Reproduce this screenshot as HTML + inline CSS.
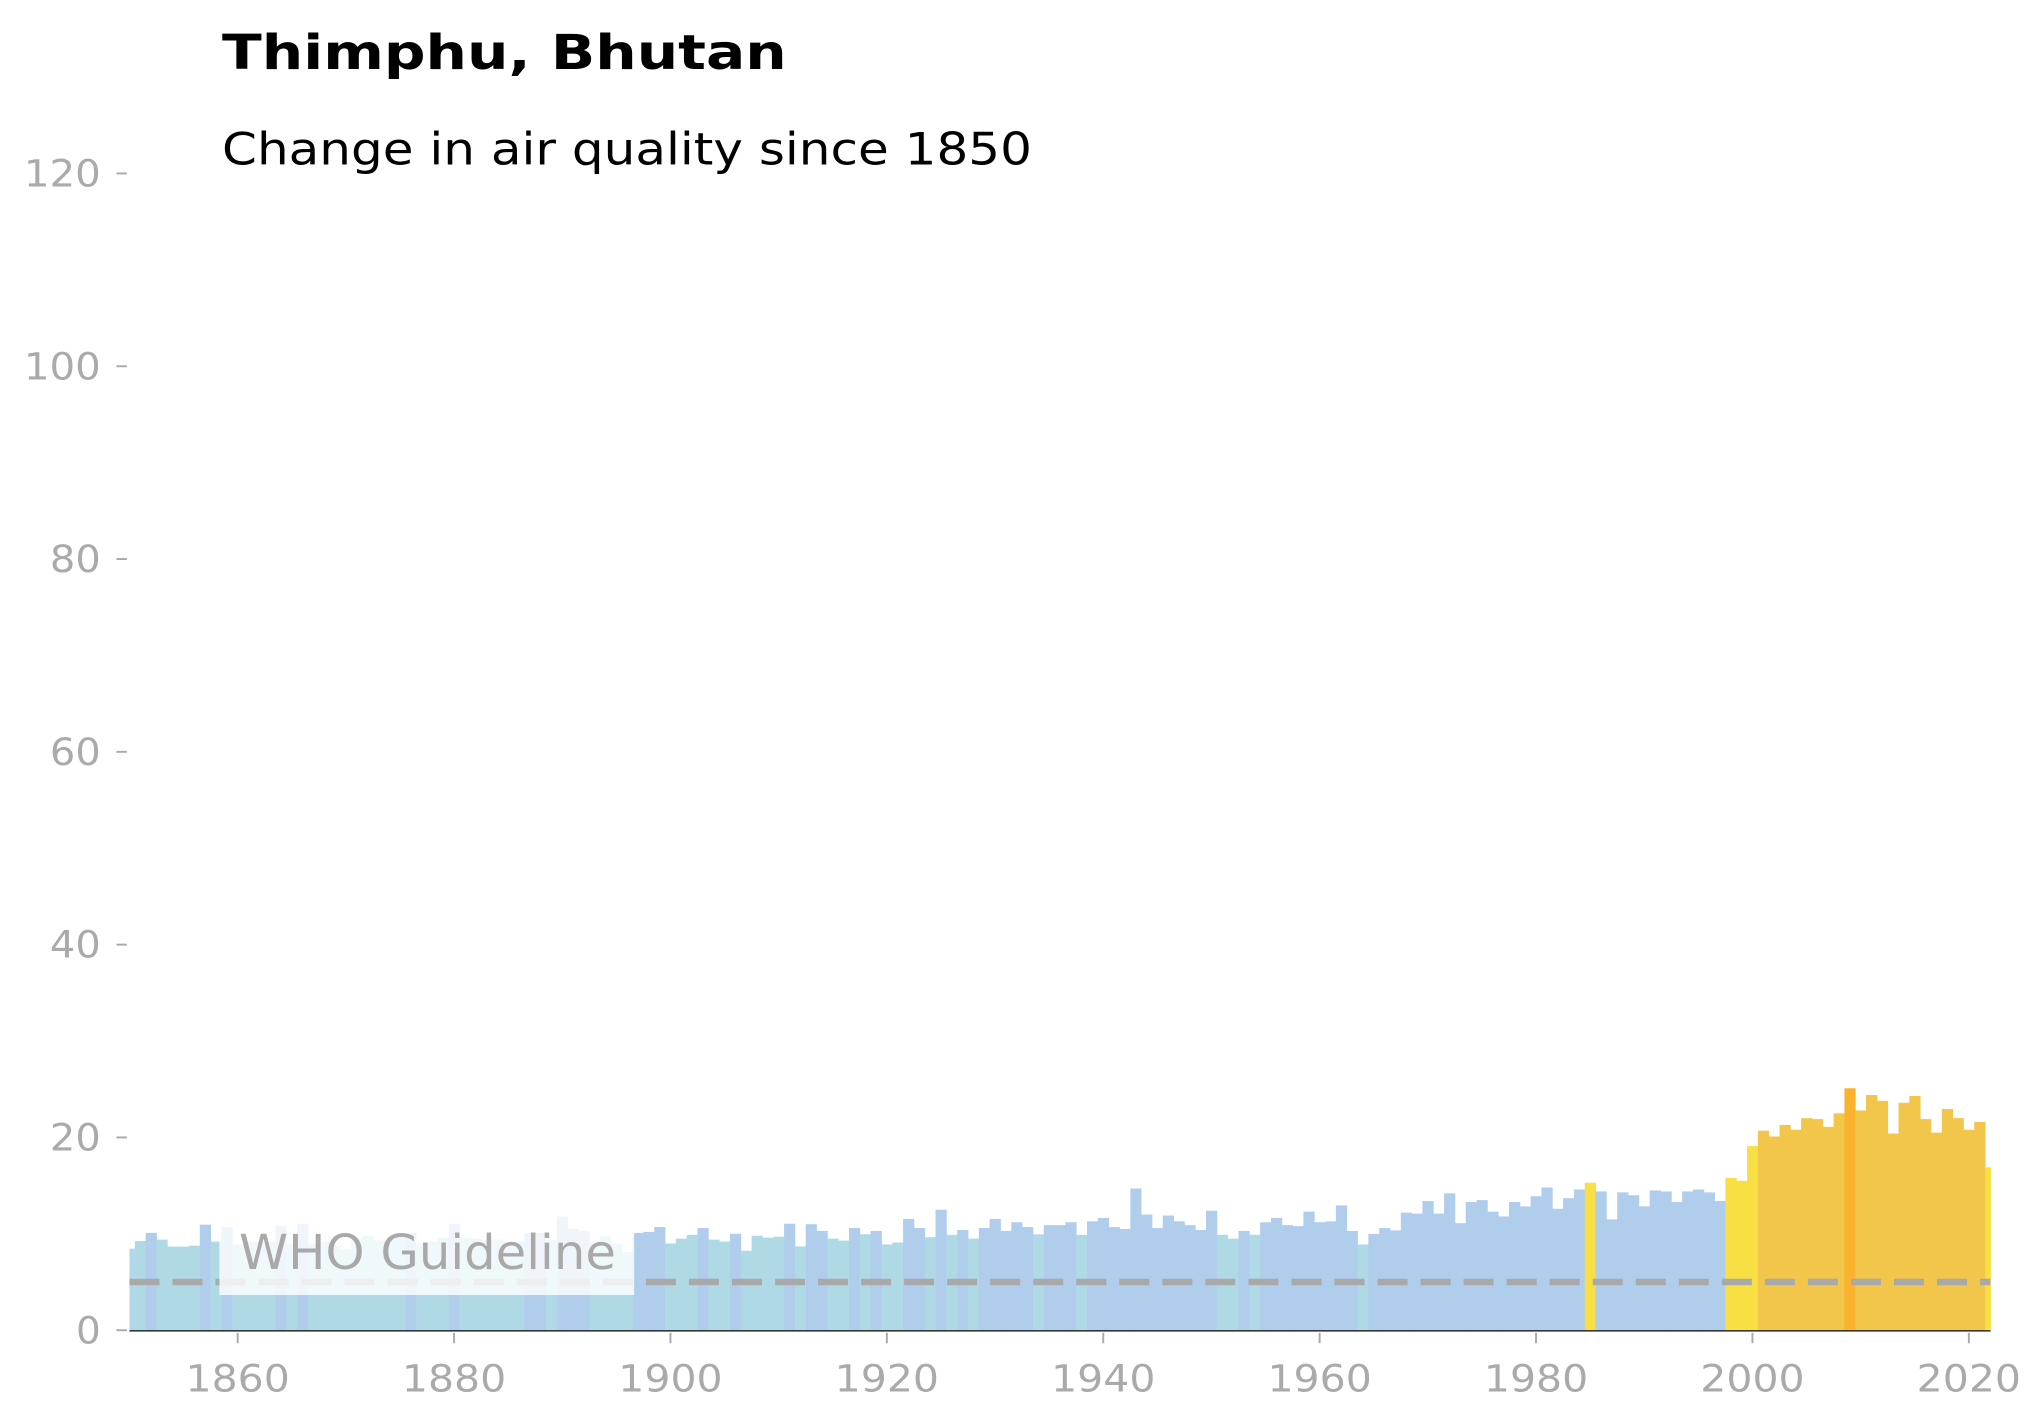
<!DOCTYPE html>
<html><head><meta charset="utf-8"><style>
html,body{margin:0;padding:0;background:#fff;}
svg{display:block;}
</style></head><body>
<svg id="chart" width="2043" height="1415" viewBox="0 0 1566 1085" xmlns="http://www.w3.org/2000/svg" font-family="'DejaVu Sans','Liberation Sans',sans-serif">
<text x="170" y="53" font-size="37" font-weight="bold" fill="#000" textLength="433" lengthAdjust="spacingAndGlyphs">Thimphu, Bhutan</text>
<text x="170" y="126" font-size="34" fill="#000" textLength="621" lengthAdjust="spacingAndGlyphs">Change in air quality since 1850</text>
<g id="bars"></g>
<g id="yaxis"></g>
<g id="xaxis"></g>
<g id="who"></g>
</svg>
<script>
const startYear = 1850;
const values = [
8.46,9.25,10.1,9.4,8.67,8.67,8.77,10.95,9.19,10.7,
8.9,9.2,9.2,9.2,10.8,9.0,11.05,9.0,9.2,8.8,
8.4,9.5,9.8,9.3,9.3,9.9,10.1,9.0,9.2,9.6,
11.05,9.6,9.5,9.4,9.4,9.2,9.2,10.1,10.1,9.35,
11.8,10.5,10.3,9.2,9.8,9.0,8.1,10.1,10.2,10.7,
9.0,9.5,9.9,10.6,9.4,9.2,10.0,8.25,9.8,9.6,
9.7,11.05,8.7,11.0,10.3,9.5,9.3,10.6,9.96,10.3,
8.9,9.1,11.55,10.6,9.65,12.5,9.9,10.4,9.5,10.6,
11.55,10.3,11.2,10.7,9.95,10.9,10.9,11.2,9.9,11.3,
11.65,10.7,10.5,14.7,12.0,10.6,11.9,11.3,10.9,10.4,
12.4,9.9,9.5,10.3,9.9,11.2,11.65,10.9,10.8,12.3,
11.2,11.3,12.95,10.3,8.9,10.0,10.6,10.35,12.2,12.1,
13.4,12.1,14.2,11.1,13.3,13.5,12.3,11.8,13.3,12.85,
13.9,14.8,12.6,13.7,14.6,15.3,14.4,11.5,14.3,14.0,
12.85,14.5,14.4,13.3,14.4,14.6,14.3,13.4,15.8,15.5,
19.1,20.7,20.1,21.3,20.8,22.0,21.9,21.1,22.5,25.1,
22.8,24.4,23.8,20.4,23.6,24.3,21.9,20.5,22.95,22.0,
20.8,21.6,16.9
];
const yTicks = [0,20,40,60,80,100,120];
const xTicks = [1860,1880,1900,1920,1940,1960,1980,2000,2020];
const guideline = 5;

const NS = "http://www.w3.org/2000/svg";
const X0 = 99, X1 = 1526, Y0 = 1020, Y120 = 133;
const xMin = 1850, xMax = 2022;
function xs(y){ return X0 + (y - xMin) * (X1 - X0) / (xMax - xMin); }
function ys(v){ return Y0 - v * (Y0 - Y120) / 120; }
function color(v){
  if (v < 10) return "#b0d9e6";
  if (v < 15) return "#b0cdec";
  if (v < 20) return "#f7df44";
  if (v < 25) return "#f1c64a";
  return "#fbb22d";
}
function mk(tag, attrs, parent){
  const el = document.createElementNS(NS, tag);
  for (const k in attrs) el.setAttribute(k, attrs[k]);
  parent.appendChild(el);
  return el;
}
const bars = document.getElementById("bars");
const bw = (X1 - X0) / (xMax - xMin);
values.forEach((v, i) => {
  const yr = startYear + i;
  let l = xs(yr) - bw/2, r = xs(yr) + bw/2;
  l = Math.max(l, X0); r = Math.min(r, X1);
  const el = mk("rect", {x: l, y: ys(v), width: r - l + 0.3, height: Y0 - ys(v), fill: color(v)}, bars);
  
  
});
const ya = document.getElementById("yaxis");
yTicks.forEach(t => {
  const ln = mk("line", {x1: 89, x2: 97, y1: ys(t), y2: ys(t), stroke: "#aaa", "stroke-width": 1.5}, ya);
  
  
  const tx = mk("text", {x: 77, y: ys(t) + 10, "text-anchor": "end", "font-size": 29, fill: "#aaa", textLength: t >= 100 ? 59 : (t > 0 ? 39 : 19), lengthAdjust: "spacingAndGlyphs"}, ya);
  tx.textContent = t;
  
  
});
const xa = document.getElementById("xaxis");
const axl = mk("line", {x1: X0, x2: X1, y1: Y0 + 0.5, y2: Y0 + 0.5, stroke: "#000", "stroke-width": 1}, xa);


xTicks.forEach(t => {
  const ln = mk("line", {x1: xs(t), x2: xs(t), y1: Y0 + 2, y2: Y0 + 10, stroke: "#aaa", "stroke-width": 1.5}, xa);
  
  
  const tx = mk("text", {x: xs(t), y: Y0 + 47, "text-anchor": "middle", "font-size": 29, fill: "#aaa", textLength: 80, lengthAdjust: "spacingAndGlyphs"}, xa);
  tx.textContent = t;
  
  
});
const who = document.getElementById("who");
const dl = mk("line", {x1: X0, x2: X1, y1: ys(guideline), y2: ys(guideline), stroke: "#a9a9a9", "stroke-width": 5, "stroke-dasharray": "23 10"}, who);


const box = mk("rect", {x: 168, y: 932, width: 318, height: 61, fill: "#fff", "fill-opacity": 0.8}, who);


const wt = mk("text", {x: 183, y: 973, "font-size": 37, fill: "#a9a9a9", textLength: 289, lengthAdjust: "spacingAndGlyphs"}, who);
wt.textContent = "WHO Guideline";


</script>
</body></html>
